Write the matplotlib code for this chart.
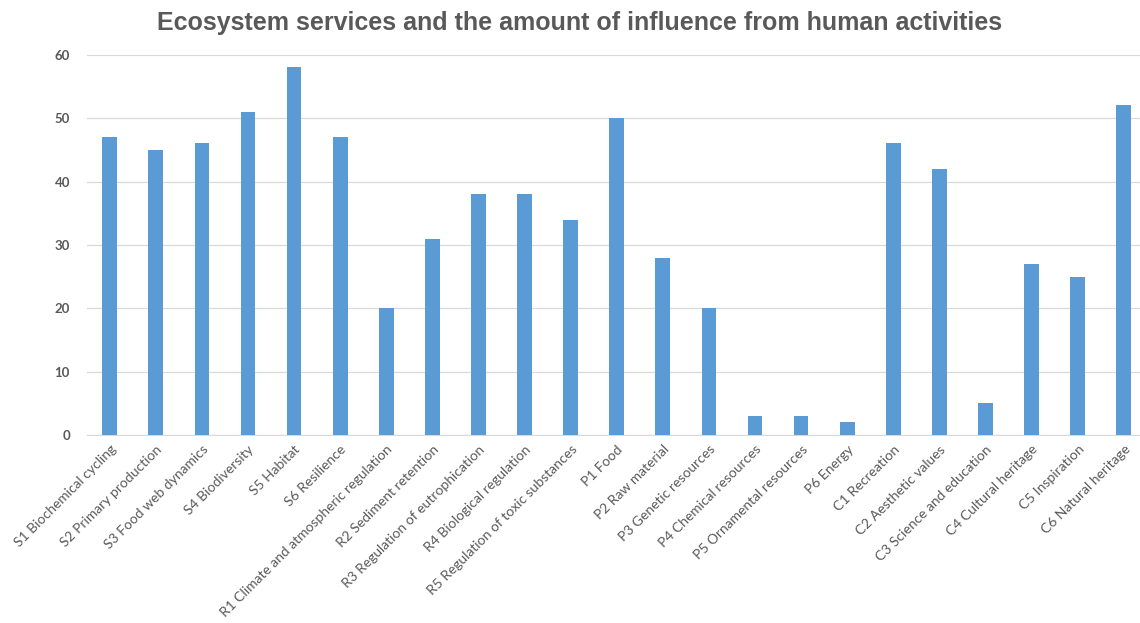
import matplotlib
matplotlib.use("Agg")
import matplotlib.pyplot as plt
import numpy as np

services = [
    "S1 Biochemical cycling", "S2 Primary production", "S3 Food web dynamics",
    "S4 Biodiversity", "S5 Habitat", "S6 Resilience",
    "R1 Climate and atmospheric regulation", "R2 Sediment retention",
    "R3 Regulation of eutrophication", "R4 Biological regulation",
    "R5 Regulation of toxic substances",
    "P1 Food", "P2 Raw material", "P3 Genetic resources", "P4 Chemical resources",
    "P5 Ornamental resources", "P6 Energy",
    "C1 Recreation", "C2 Aesthetic values", "C3 Science and education",
    "C4 Cultural heritage", "C5 Inspiration", "C6 Natural heritage",
]
influence = [47, 45, 46, 51, 58, 47, 20, 31, 38, 38, 34,
             50, 28, 20, 3, 3, 2, 46, 42, 5, 27, 25, 52]
yticks = [0, 10, 20, 30, 40, 50, 60]

fig = plt.figure(figsize=(11.4, 6.23), dpi=100)
ax = fig.add_axes([0.076, 0.302, 0.93, 0.61])

x = np.arange(len(services))
ax.bar(x, influence, width=0.32, color="#5b9bd5", zorder=3)

ax.set_xlim(-0.5, len(services) - 0.5)
ax.set_ylim(0, 60)
ax.set_yticks(yticks)
ax.yaxis.grid(True, color="#d9d9d9", linewidth=0.9, zorder=0)
ax.set_xticks(x)
ax.set_xticklabels(services, rotation=45, ha="right", rotation_mode="anchor",
                   fontsize=10, color="#595959", family="Lato")
for lbl in ax.get_yticklabels():
    lbl.set_fontweight("bold")
    lbl.set_color("#595959")
    lbl.set_fontsize(9.5)
    lbl.set_family("Lato")
ax.tick_params(axis="both", length=0)
ax.tick_params(axis="y", pad=12)
ax.tick_params(axis="x", pad=6)
for side in ["top", "right", "left"]:
    ax.spines[side].set_visible(False)
ax.spines["bottom"].set_color("#d9d9d9")

fig.text(0.508, 0.963, "Ecosystem services and the amount of influence from human activities",
         ha="center", va="center", fontsize=18, fontweight="bold", color="#595959",
         family="Liberation Sans")

fig.savefig("out.png", dpi=100)
